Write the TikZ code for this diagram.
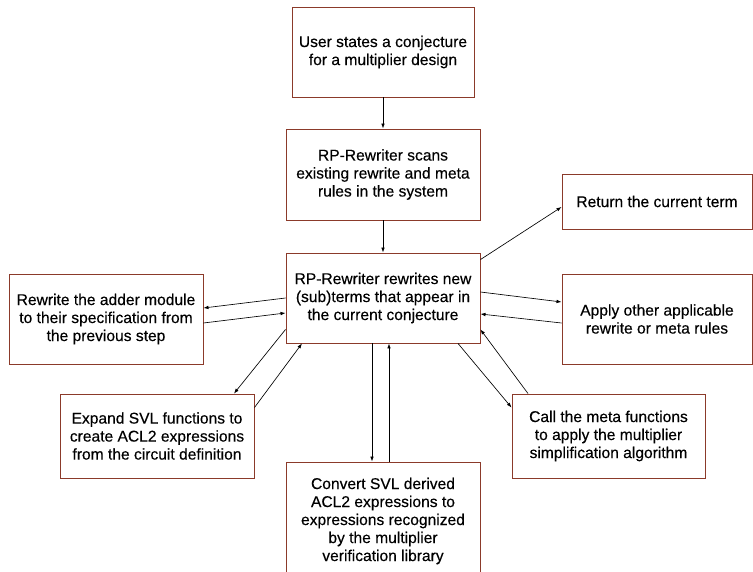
\documentclass[tikz,border=0pt]{standalone}
\usepackage{fontspec}
\setmainfont{Liberation Sans}[UprightFeatures={FakeBold=0.3}]
\usetikzlibrary{arrows.meta}
\definecolor{boxedge}{RGB}{139,58,42}
\tikzset{
  box/.style={draw=boxedge, line width=0.9pt, fill=white, align=center, inner sep=2pt,
    font=\fontsize{15.6}{18}\selectfont},
  arr/.style={draw=black, line width=0.65pt, -{Latex[length=5pt,width=3.6pt]}}
}
\begin{document}
\begin{tikzpicture}[x=1pt,y=-1pt]
\useasboundingbox[fill=white] (0,0) rectangle (753,572);
\node[box, minimum width=182pt, minimum height=90pt] (b1) at (383,52) {User states a conjecture\\for a multiplier design};
\node[box, minimum width=194pt, minimum height=91pt] (b2) at (383,174.5) {RP-Rewriter scans\\existing rewrite and meta\\rules in the system};
\node[box, minimum width=194pt, minimum height=90pt] (b3) at (383,298) {RP-Rewriter rewrites new\\(sub)terms that appear in\\the current conjecture};
\node[box, minimum width=190pt, minimum height=55pt] (ret) at (657,201.5) {Return the current term};
\node[box, minimum width=190pt, minimum height=90pt] (app) at (657,319) {Apply other applicable\\rewrite or meta rules};
\node[box, minimum width=194pt, minimum height=90pt] (add) at (106,319) {Rewrite the adder module\\to their specification from\\the previous step};
\node[box, minimum width=194pt, minimum height=84pt] (ex) at (157,436) {Expand SVL functions to\\create ACL2 expressions\\from the circuit definition};
\node[box, minimum width=193pt, minimum height=84pt] (call) at (608.5,436) {Call the meta functions\\to apply the multiplier\\simplification algorithm};
\node[box, minimum width=194pt, minimum height=118pt] (conv) at (383,521) {Convert SVL derived\\ACL2 expressions to\\expressions recognized\\by the multiplier\\verification library};

\draw[arr] (b1) -- (b2);
\draw[arr] (b2) -- (b3);
\draw[arr] ([yshift=-7pt]b3.north east) -- ([yshift=-5.5pt]ret.west);
\draw[arr] ([yshift=6pt]b3.east) -- ([yshift=17pt]app.west);
\draw[arr] ([yshift=-4pt]app.west) -- ([yshift=-16pt]b3.east);
\draw[arr] (b3.west) -- ([yshift=11pt]add.east);
\draw[arr] ([yshift=-4pt]add.east) -- ([yshift=-15pt]b3.west);
\draw[arr] ([yshift=14pt]b3.south west) -- ([xshift=77pt]ex.north);
\draw[arr] ([yshift=-14pt]ex.north east) -- ([xshift=-81pt]b3.south);
\draw[arr] ([xshift=75pt]b3.south) -- ([yshift=-14pt]call.north west);
\draw[arr] ([xshift=-80.5pt]call.north) -- ([yshift=14pt]b3.south east);
\draw[arr] ([xshift=-11pt]b3.south) -- ([xshift=-11pt]conv.north);
\draw[arr] ([xshift=6pt]conv.north) -- ([xshift=6pt]b3.south);
\end{tikzpicture}
\end{document}
